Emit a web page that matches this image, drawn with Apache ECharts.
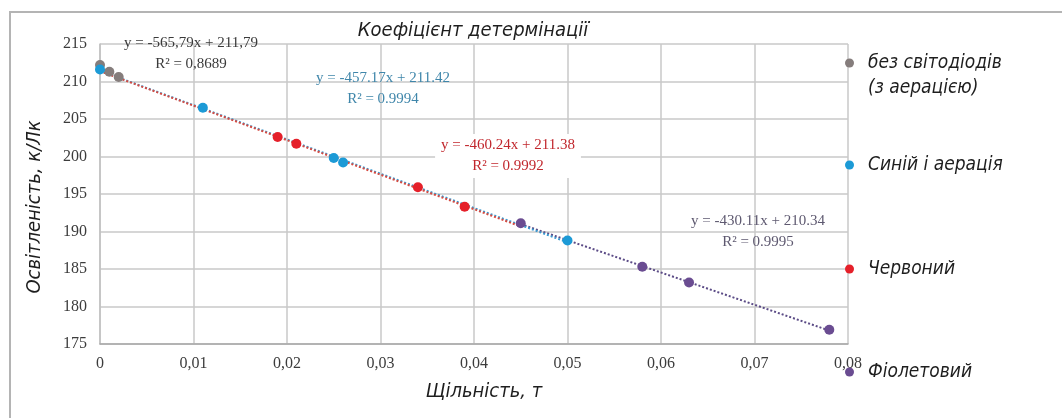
<!DOCTYPE html>
<html>
<head>
<meta charset="utf-8">
<script src="https://cdn.jsdelivr.net/npm/echarts@6/dist/echarts.min.js"></script>
<style>
  html, body { margin: 0; padding: 0; background: #ffffff; }
  #chart { width: 1062px; height: 418px; }
</style>
</head>
<body>
<div id="chart"></div>
<script>
// Measured illuminance vs. density for four lighting setups
const legendLines = [
  ['без світодіодів', '(з аерацією)'],
  ['Синій і аерація'],
  ['Червоний'],
  ['Фіолетовий']
];
const seriesColors = ['#857d7c', '#1c9ad6', '#e5202a', '#6a4c91'];
const trendColors = ['#8a8a8a', '#3a9ad0', '#d84a40', '#5b4b86'];
const labelColors = ['#3a3a3a', '#3f86aa', '#c1272d', '#5e5970'];

const grayPoints = [[0, 212.2], [0.001, 211.3], [0.002, 210.6]];
const bluePoints = [[0, 211.6], [0.011, 206.5], [0.025, 199.8], [0.026, 199.2], [0.05, 188.8]];
const redPoints = [[0.019, 202.6], [0.021, 201.7], [0.034, 195.9], [0.039, 193.3]];
const violetPoints = [[0.045, 191.1], [0.058, 185.3], [0.063, 183.2], [0.078, 176.9]];

// Linear trend lines: y = slope * x + intercept
const trendSlopes = [-565.79, -457.17, -460.24, -430.11];
const trendIntercepts = [211.79, 211.42, 211.38, 210.34];
const trendR2 = [0.8689, 0.9994, 0.9992, 0.9995];
const trendSpans = [[0, 0.002], [0, 0.05], [0, 0.045], [0.045, 0.078]];
const decimalSeparators = [',', '.', '.', '.'];

const titleText = 'Коефіцієнт детермінації';
const xAxisName = 'Щільність, т';
const yAxisName = 'Освітленість, к/Лк';
const xMin = 0, xMax = 0.08, xStep = 0.01;
const yMin = 175, yMax = 215, yStep = 5;

const allPoints = [grayPoints, bluePoints, redPoints, violetPoints];
const seriesNames = legendLines.map(l => l.join(' '));

const techFont = '"Liberation Sans Narrow", "DejaVu Sans Condensed", sans-serif';
const serifFont = '"Liberation Serif", "DejaVu Serif", serif';

function fmt(v, digits, sep) {
  return v.toFixed(digits).replace('.', sep);
}
function equationText(i) {
  const sep = decimalSeparators[i];
  return 'y = ' + fmt(trendSlopes[i], 2, sep) + 'x + ' + fmt(trendIntercepts[i], 2, sep) +
    '\nR² = ' + fmt(trendR2[i], 4, sep);
}
function trendData(i) {
  return trendSpans[i].map(x => [x, trendSlopes[i] * x + trendIntercepts[i]]);
}

const trendSeries = allPoints.map((_, i) => ({
  name: 'trend-' + i,
  type: 'line',
  data: trendData(i),
  showSymbol: false,
  silent: true,
  z: [1, 3, 4, 2][i],
  lineStyle: { color: trendColors[i], width: 2, type: 'dotted' }
}));

const scatterSeries = allPoints.map((pts, i) => ({
  name: seriesNames[i],
  type: 'scatter',
  data: pts,
  symbolSize: 10,
  z: 10 + i,
  itemStyle: { color: seriesColors[i], opacity: 1 }
}));

// Equation label block centres
const eqAnchors = [[191, 54], [383, 89], [508, 156], [758, 232]];
const eqGraphics = eqAnchors.map((p, i) => ({
  type: 'text',
  x: p[0],
  y: p[1],
  z: 50,
  style: {
    text: equationText(i),
    fill: labelColors[i],
    font: '15px ' + serifFont,
    lineHeight: 21,
    align: 'center',
    verticalAlign: 'middle',
    backgroundColor: i === 2 ? '#ffffff' : null,
    padding: i === 2 ? [1, 6] : 0
  }
}));

const legendIconCenters = [63, 165, 269, 372];
const legends = legendLines.map((lines, i) => {
  const text = lines.length > 1 ? '\n' + lines.join('\n') : lines[0];
  const h = (lines.length > 1 ? 3 : 1) * 25;
  return {
    data: [seriesNames[i]],
    left: 845,
    top: legendIconCenters[i] - h / 2,
    padding: 0,
    icon: 'circle',
    itemWidth: 9,
    itemHeight: 9,
    selectedMode: false,
    formatter: () => text,
    textStyle: {
      fontFamily: techFont,
      fontStyle: 'italic',
      fontSize: 19,
      lineHeight: 25,
      color: '#1e1e1e',
      padding: [0, 0, 0, 9]
    }
  };
});

const chart = echarts.init(document.getElementById('chart'), null, { renderer: 'canvas' });
chart.setOption({
  backgroundColor: '#ffffff',
  animation: false,
  title: {
    text: titleText,
    left: 468,
    top: 16,
    textAlign: 'center',
    textStyle: {
      fontFamily: techFont,
      fontStyle: 'italic',
      fontWeight: 'normal',
      fontSize: 20,
      color: '#1e1e1e'
    }
  },
  legend: legends,
  grid: { left: 100, right: 214, top: 44, bottom: 74, containLabel: false },
  xAxis: {
    type: 'value',
    min: xMin,
    max: xMax,
    interval: xStep,
    name: xAxisName,
    nameLocation: 'middle',
    nameGap: 38,
    nameTextStyle: {
      fontFamily: techFont,
      fontStyle: 'italic',
      fontSize: 20,
      color: '#1e1e1e',
      padding: [0, 0, 0, 20]
    },
    axisLine: { show: true, lineStyle: { color: '#a8a8a8', width: 1.5 } },
    axisTick: { show: false },
    axisLabel: {
      margin: 12,
      fontFamily: serifFont,
      fontSize: 16,
      color: '#3c3c3c',
      formatter: v => (v === 0 ? '0' : fmt(v, 2, ','))
    },
    splitLine: { show: true, lineStyle: { color: '#c8c8c8', width: 1.5 } }
  },
  yAxis: {
    type: 'value',
    min: yMin,
    max: yMax,
    interval: yStep,
    name: yAxisName,
    nameLocation: 'middle',
    nameRotate: 90,
    nameGap: 55,
    nameTextStyle: {
      fontFamily: techFont,
      fontStyle: 'italic',
      fontSize: 20,
      color: '#1e1e1e',
      padding: [0, 26, 0, 0]
    },
    axisLine: { show: true, lineStyle: { color: '#c0c0c0', width: 1.5 } },
    axisTick: { show: false },
    axisLabel: {
      margin: 13,
      fontFamily: serifFont,
      fontSize: 16,
      color: '#3c3c3c'
    },
    splitLine: { show: true, lineStyle: { color: '#c8c8c8', width: 1.5 } }
  },
  graphic: [
    {
      type: 'polyline',
      shape: { points: [[10, 430], [10, 12], [1070, 12]] },
      style: { stroke: '#b4b4b4', lineWidth: 2, fill: null },
      z: 0
    }
  ].concat(eqGraphics),
  series: trendSeries.concat(scatterSeries)
});
</script>
</body>
</html>
